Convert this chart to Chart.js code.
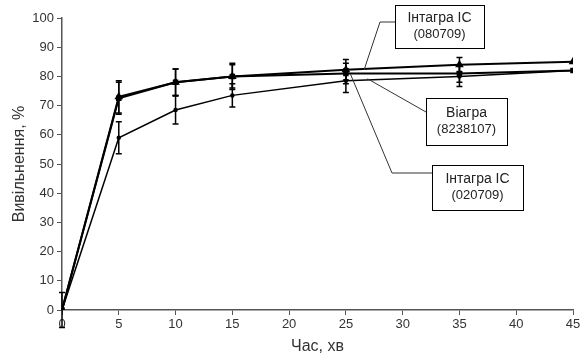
<!DOCTYPE html>
<html>
<head>
<meta charset="utf-8">
<script src="https://cdn.jsdelivr.net/npm/chart.js@4/dist/chart.umd.min.js"></script>
<style>
  html, body { margin: 0; padding: 0; background: #fff; }
  #wrap { width: 584px; height: 355px; }
</style>
</head>
<body>
<div id="wrap"><canvas id="myChart"></canvas></div>
<script>
// time points, min
const times = [0, 5, 10, 15, 25, 35, 45];

// release values, %
const integra080709 = [0, 73, 78, 80, 82.3, 84, 85];
const viagra = [0, 72.5, 78, 80, 81, 81, 82];
const integra020709 = [0, 59, 68.5, 73.5, 78.5, 80, 82];

// error bar half-heights
const err080709 = [0, 5.5, 4.5, 4.5, 3.5, 2.5, 0];
const errViagra = [6, 5.5, 4.5, 4, 3.5, 3, 0];
const err020709 = [0, 5.5, 4.8, 4, 4, 3.5, 0];

const xTicks = [0, 5, 10, 15, 20, 25, 30, 35, 40, 45];
const yTicks = [0, 10, 20, 30, 40, 50, 60, 70, 80, 90, 100];

// callout labels: box (px) and where the leader points (data)
const callouts = [
  { lines: ['Інтагра IC', '(080709)'], box: [395, 5, 89, 43], elbow: [380, 22], to: [26.6, 82.2] },
  { lines: ['Віагра', '(8238107)'], box: [426, 98, 81, 47], elbow: null, to: [26.9, 79.2] },
  { lines: ['Інтагра IC', '(020709)'], box: [432, 165, 91, 45], elbow: [392, 173], to: [25.4, 80.8] }
];

const toPoints = (vals) => times.map((t, i) => ({ x: t, y: vals[i] }));

const errorBars = {
  id: 'errorBars',
  afterDatasetsDraw(chart) {
    const c = chart.ctx;
    const xs = chart.scales.x, ys = chart.scales.y;
    const errs = [err080709, errViagra, err020709];
    c.save();
    c.strokeStyle = '#000';
    c.lineWidth = 1.5;
    errs.forEach((e, d) => {
      const vals = chart.data.datasets[d].data;
      vals.forEach((p, i) => {
        if (!e[i]) return;
        const px = xs.getPixelForValue(p.x);
        const top = ys.getPixelForValue(p.y + e[i]);
        const bot = ys.getPixelForValue(p.y - e[i]);
        c.beginPath();
        c.moveTo(px, top); c.lineTo(px, bot);
        c.moveTo(px - 3, top); c.lineTo(px + 3, top);
        c.moveTo(px - 3, bot); c.lineTo(px + 3, bot);
        c.stroke();
      });
    });
    c.restore();
  }
};

const calloutPlugin = {
  id: 'callouts',
  afterDraw(chart) {
    const c = chart.ctx;
    const xs = chart.scales.x, ys = chart.scales.y;
    c.save();
    callouts.forEach(co => {
      const [bx, by, bw, bh] = co.box;
      const tx = xs.getPixelForValue(co.to[0]);
      const ty = ys.getPixelForValue(co.to[1]);
      c.strokeStyle = '#333';
      c.lineWidth = 1;
      c.beginPath();
      if (co.elbow) {
        c.moveTo(bx, co.elbow[1]);
        c.lineTo(co.elbow[0], co.elbow[1]);
      } else {
        c.moveTo(bx, by + 14);
      }
      c.lineTo(tx, ty);
      c.stroke();
      c.fillStyle = '#fff';
      c.fillRect(bx, by, bw, bh);
      c.strokeStyle = '#000';
      c.strokeRect(bx + 0.5, by + 0.5, bw, bh);
      c.fillStyle = '#222';
      c.textAlign = 'center';
      c.textBaseline = 'middle';
      c.font = '14px "Liberation Sans", Arial, sans-serif';
      c.fillText(co.lines[0], bx + bw / 2, by + bh / 2 - 8);
      c.font = '13px "Liberation Sans", Arial, sans-serif';
      c.fillText(co.lines[1], bx + bw / 2, by + bh / 2 + 8);
    });
    c.restore();
  }
};

const ctx = document.getElementById('myChart').getContext('2d');

new Chart(ctx, {
  type: 'line',
  data: {
    datasets: [
      {
        label: 'Інтагра IC (080709)',
        data: toPoints(integra080709),
        borderColor: '#000', backgroundColor: '#000',
        borderWidth: 2, pointStyle: 'triangle', pointRadius: 3
      },
      {
        label: 'Віагра (8238107)',
        data: toPoints(viagra),
        borderColor: '#000', backgroundColor: '#000',
        borderWidth: 2, pointStyle: 'rect', pointRadius: 2.5
      },
      {
        label: 'Інтагра IC (020709)',
        data: toPoints(integra020709),
        borderColor: '#000', backgroundColor: '#000',
        borderWidth: 1.5, pointStyle: 'circle', pointRadius: 1.5
      }
    ]
  },
  options: {
    responsive: true,
    maintainAspectRatio: false,
    animation: false,
    layout: { padding: { top: 18, right: 11, left: 0, bottom: 0 } },
    plugins: { legend: { display: false }, tooltip: { enabled: false } },
    scales: {
      x: {
        type: 'linear', min: 0, max: 45,
        afterBuildTicks: (s) => { s.ticks = xTicks.map(v => ({ value: v })); },
        afterFit: (s) => { s.height = 45; },
        grid: { display: true, drawOnChartArea: false, drawTicks: true, tickLength: 5, color: '#555' },
        border: { display: true, color: '#555', width: 1.5 },
        ticks: { color: '#333', font: { family: '"Liberation Sans", Arial', size: 13 }, padding: 2, maxRotation: 0 },
        title: { display: true, text: 'Час, хв', color: '#333', font: { family: '"Liberation Sans", Arial', size: 16, lineHeight: 1 }, padding: { top: 0, bottom: 0 } }
      },
      y: {
        min: 0, max: 100,
        afterBuildTicks: (s) => { s.ticks = yTicks.map(v => ({ value: v })); },
        afterFit: (s) => { s.width = 62; },
        grid: { display: true, drawOnChartArea: false, drawTicks: true, tickLength: 5, color: '#555' },
        border: { display: true, color: '#555', width: 1.5 },
        ticks: { color: '#333', font: { family: '"Liberation Sans", Arial', size: 13 }, padding: 3 },
        title: { display: true, text: 'Вивільнення, %', color: '#333', font: { family: '"Liberation Sans", Arial', size: 16, lineHeight: 1 }, padding: { top: 12, bottom: 0 } }
      }
    }
  },
  plugins: [errorBars, calloutPlugin]
});
</script>
</body>
</html>
